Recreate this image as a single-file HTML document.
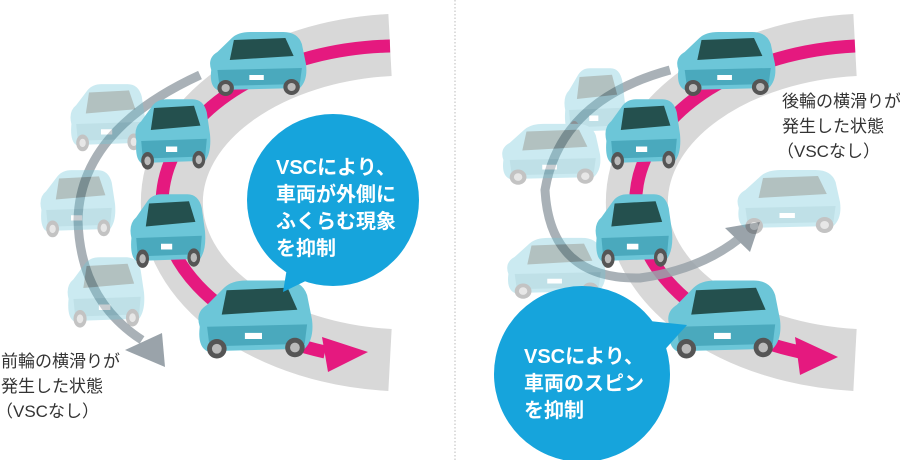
<!DOCTYPE html>
<html><head><meta charset="utf-8"><style>
html,body{margin:0;padding:0;background:#fff;width:900px;height:460px;overflow:hidden}
svg{display:block}
.t{font-family:"Liberation Sans","Noto Sans CJK JP",sans-serif;}
</style></head><body>
<svg width="900" height="460" viewBox="0 0 900 460" xmlns="http://www.w3.org/2000/svg">
<defs>
<g id="car">
  <path d="M8,40 Q4,28 14,22 L28,8 Q34,2 46,2 L78,2 Q92,2 96,14 L100,34 Q102,50 94,58 L14,60 Q6,56 8,40Z" fill="#6cc6d8"/>
  <path d="M30,10 L80,8 L88,26 L26,30Z" fill="#24504e"/>
  <path d="M14,40 L96,38 L94,54 L16,56Z" fill="#4aa9bd"/>
  <rect x="45" y="45" width="14" height="5" fill="#fff"/>
  <circle cx="22" cy="58" r="8" fill="#555"/><circle cx="22" cy="58" r="4" fill="#bbb"/>
  <circle cx="86" cy="57" r="8" fill="#555"/><circle cx="86" cy="57" r="4" fill="#bbb"/>
</g>
</defs>
<line x1="455" y1="0" x2="455" y2="460" stroke="#bbb" stroke-dasharray="1.5,2" stroke-width="1"/>

<path d="M390,45 A237,158 0 0 0 390,360" fill="none" stroke="#d8d8d8" stroke-width="62"/>
<path d="M390,46 A237,157 0 0 0 325,352" fill="none" stroke="#e5197f" stroke-width="13"/>
<polygon points="322,337 368,352 328,372" fill="#e5197f"/>
<path d="M200,75 Q80,130 78,220 Q80,300 142,340" fill="none" stroke="#9aa3aa" stroke-width="9" opacity="0.85"/>
<polygon points="125,350 162,333 165,367" fill="#9aa3aa"/>
<g opacity="0.35">
<use href="#car" transform="translate(65,82) scale(0.8,1.05)"/>
<use href="#car" transform="translate(35,168) scale(0.8,1.05)"/>
<use href="#car" transform="translate(62,255) scale(0.82,1.1)"/>
</g>
<use href="#car" transform="translate(203,30) scale(1.03,1.0)"/>
<use href="#car" transform="translate(130,97) scale(0.8,1.1)"/>
<use href="#car" transform="translate(125,192) scale(0.8,1.15)"/>
<use href="#car" transform="translate(190,278) scale(1.22,1.22)"/>
<circle cx="333" cy="200" r="86" fill="#16a4dc"/>
<polygon points="290,250 318,275 283,292" fill="#16a4dc"/>
<g class="t" fill="#fff" font-weight="bold" font-size="20">
<text x="276" y="174">VSCにより、</text>
<text x="276" y="201">車両が外側に</text>
<text x="276" y="228">ふくらむ現象</text>
<text x="276" y="255">を抑制</text>
</g>
<g class="t" fill="#333" font-size="17">
<text x="1" y="367">前輪の横滑りが</text>
<text x="1" y="392">発生した状態</text>
<text x="-4" y="417">（VSCなし）</text>
</g>

<path d="M855,45 A237,158 0 0 0 855,360" fill="none" stroke="#d8d8d8" stroke-width="62"/>
<path d="M855,46 A237,157 0 0 0 800,352" fill="none" stroke="#e5197f" stroke-width="13"/>
<polygon points="795,337 838,357 800,375" fill="#e5197f"/>
<path d="M670,70 Q560,100 545,190 Q550,280 640,278 Q700,270 740,238" fill="none" stroke="#9aa3aa" stroke-width="9" opacity="0.85"/>
<polygon points="725,228 760,222 750,252" fill="#9aa3aa"/>
<g opacity="0.35">
<use href="#car" transform="translate(560,66) scale(0.65,1.1)"/>
<use href="#car" transform="translate(495,122) scale(1.05,0.95)"/>
<use href="#car" transform="translate(730,168) scale(1.1,1.0)"/>
<use href="#car" transform="translate(500,236) scale(1.05,0.95)"/>
</g>
<use href="#car" transform="translate(670,30) scale(1.05,1.0)"/>
<use href="#car" transform="translate(600,97) scale(0.8,1.1)"/>
<use href="#car" transform="translate(590,192) scale(0.82,1.15)"/>
<use href="#car" transform="translate(660,278) scale(1.2,1.22)"/>
<circle cx="582" cy="374" r="88" fill="#16a4dc"/>
<polygon points="640,320 687,325 660,355" fill="#16a4dc"/>
<g class="t" fill="#fff" font-weight="bold" font-size="20">
<text x="524" y="363">VSCにより、</text>
<text x="524" y="390">車両のスピン</text>
<text x="524" y="417">を抑制</text>
</g>
<g class="t" fill="#333" font-size="17">
<text x="782" y="107">後輪の横滑りが</text>
<text x="782" y="132">発生した状態</text>
<text x="777" y="157">（VSCなし）</text>
</g>
</svg>
</body></html>
